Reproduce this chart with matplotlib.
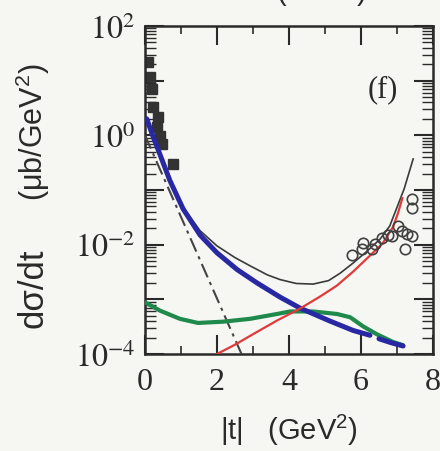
import numpy as np
import matplotlib.pyplot as plt
from matplotlib.ticker import FixedLocator, FuncFormatter, LogLocator, NullFormatter

# small-|t| data (filled) and large-|t| data (open)
t_fwd = [0.08, 0.14, 0.19, 0.22, 0.36, 0.33, 0.42, 0.47, 0.78]
ds_fwd = [22.0, 11.7, 7.1, 3.3, 2.2, 1.4, 0.98, 0.69, 0.30]

t_bwd = [5.75, 6.03, 6.06, 6.30, 6.39, 6.58, 6.75, 6.86, 7.03, 7.14, 7.22, 7.28, 7.42, 7.42, 7.42]
ds_bwd = [6.5e-3, 8.3e-3, 1.07e-2, 8.3e-3, 1.02e-2, 1.32e-2, 1.51e-2, 1.45e-2, 2.19e-2,
          1.78e-2, 8.3e-3, 1.58e-2, 1.45e-2, 4.7e-2, 6.9e-2]

# model curves
t_tot = [0.05, 0.2, 0.42, 0.69, 1.06, 1.53, 2.0, 2.5, 2.92, 3.4, 3.75, 4.2, 4.67, 5.1,
         5.42, 5.78, 6.17, 6.53, 6.8, 7.0, 7.2, 7.45]
ds_tot = [2.0, 1.05, 0.45, 0.16, 0.048, 0.018, 9.5e-3, 5.8e-3, 4.1e-3, 2.8e-3, 2.3e-3,
          1.95e-3, 1.9e-3, 2.2e-3, 3.0e-3, 4.6e-3, 7.6e-3, 1.26e-2, 2.2e-2, 4.8e-2, 0.105, 0.37]

t_blue = [0.05, 0.2, 0.42, 0.69, 1.06, 1.53, 2.0, 2.56, 3.11, 3.75, 4.31, 5.14, 5.78, 6.25]
ds_blue = [2.0, 1.05, 0.44, 0.15, 0.045, 0.015, 7.1e-3, 3.5e-3, 2.0e-3, 1.1e-3, 6.9e-4,
           4.0e-4, 2.7e-4, 2.2e-4]
t_blue_tail = [6.5, 6.85, 7.17]
ds_blue_tail = [1.9e-4, 1.6e-4, 1.4e-4]

t_green = [0.02, 0.42, 0.97, 1.47, 2.17, 2.92, 3.67, 4.03, 4.67, 5.33, 5.70, 6.06, 6.44, 6.89, 7.17]
ds_green = [8.7e-4, 6.2e-4, 4.4e-4, 3.7e-4, 3.9e-4, 4.4e-4, 5.4e-4, 6.0e-4, 6.0e-4, 5.4e-4,
            4.7e-4, 3.2e-4, 2.3e-4, 1.66e-4, 1.45e-4]

t_red = [2.0, 2.5, 3.0, 3.67, 4.31, 4.86, 5.33, 5.78, 6.25, 6.6, 6.89, 7.03, 7.15]
ds_red = [1.0e-4, 1.48e-4, 2.3e-4, 4.1e-4, 6.8e-4, 1.12e-3, 1.78e-3, 3.2e-3, 6.3e-3,
          1.05e-2, 2.1e-2, 3.8e-2, 7.1e-2]

t_dd = [0.0, 2.75]
ds_dd = [1.0, 7.9e-5]

plt.rcParams['font.family'] = 'Liberation Serif'
plt.rcParams['mathtext.fontset'] = 'stix'
# sans math for the axis titles
plt.rcParams['mathtext.rm'] = 'Liberation Sans'
plt.rcParams['mathtext.it'] = 'Liberation Sans'

bg = '#f6f6f3'
ink = '#2a2a2a'
fig = plt.figure(figsize=(4.4, 4.52), dpi=100, facecolor=bg)
ax = fig.add_axes([0.3295, 0.2146, 0.6545, 0.7257], facecolor=bg)

ax.plot(t_fwd, ds_fwd, 's', ms=7, color='#333333', zorder=2)
ax.plot(t_tot, ds_tot, '-', color='#3a3a3a', lw=1.2, zorder=3)
ax.plot(t_dd, ds_dd, color='#444444', lw=1.5, ls=(0, (7, 2.5, 1.5, 2.5)), zorder=3)
ax.plot(t_green, ds_green, '-', color='#1f8a4c', lw=3.0, solid_capstyle='round', zorder=4)
ax.plot(t_blue, ds_blue, '-', color='#2828a2', lw=3.6, solid_capstyle='round', zorder=5)
ax.plot(t_blue_tail, ds_blue_tail, '-', color='#2828a2', lw=3.6, solid_capstyle='round', zorder=5)
ax.plot(t_red, ds_red, '-', color='#e03a3a', lw=1.6, zorder=6)
ax.plot(t_bwd, ds_bwd, 'o', ms=7.5, mfc='none', mec='#404040', mew=1.2, zorder=7)

ax.set_yscale('log')
ax.set_xlim(0, 8)
ax.set_ylim(1e-4, 1e2)

ax.xaxis.set_major_locator(FixedLocator([0, 2, 4, 6, 8]))
ax.xaxis.set_minor_locator(FixedLocator([1, 3, 5, 7]))
ax.yaxis.set_major_locator(FixedLocator([1e-4, 1e-3, 1e-2, 1e-1, 1e0, 1e1, 1e2]))
ax.yaxis.set_minor_locator(LogLocator(base=10, subs=np.arange(2, 10), numticks=20))
ax.yaxis.set_minor_formatter(NullFormatter())


def decade_label(v, pos):
    e = int(round(np.log10(v)))
    return r'$10^{%d}$' % e if e % 2 == 0 else ''


ax.yaxis.set_major_formatter(FuncFormatter(decade_label))

ax.tick_params(which='both', direction='in', top=True, right=True, colors=ink)
ax.tick_params(axis='x', which='major', length=14, width=1.5, pad=9, labelsize=23)
ax.tick_params(axis='x', which='minor', length=6, width=1.2)
ax.tick_params(axis='y', which='major', length=14, width=1.5, pad=7, labelsize=23)
ax.tick_params(axis='y', which='minor', length=8, width=1.0)
for s in ax.spines.values():
    s.set_linewidth(1.8)
    s.set_color(ink)

ax.text(6.6, 7.1, '(f)', ha='center', va='center', fontsize=22, color=ink)

sans = 'Liberation Sans'
fig.text(33 / 440, 1 - 288 / 452, 'dσ/dt', rotation=90, ha='center', va='center',
         family=sans, fontsize=25, color=ink)
fig.text(33 / 440, 1 - 132 / 452, r'(μb/GeV$^2$)', rotation=90, ha='center', va='center',
         family=sans, fontsize=22, color=ink, math_fontfamily='custom')
fig.text(289 / 440, 1 - 430 / 452, r'|t|   (GeV$^2$)', ha='center', va='center',
         family=sans, fontsize=21, color=ink, math_fontfamily='custom')
# axis title of the panel above, cut by the top edge
fig.text(321 / 440, 1 - 1 / 452, r'(GeV$^2$)', ha='center', va='baseline',
         family=sans, fontsize=21, color=ink, math_fontfamily='custom')

fig.savefig('out.png', dpi=100, facecolor=bg)
